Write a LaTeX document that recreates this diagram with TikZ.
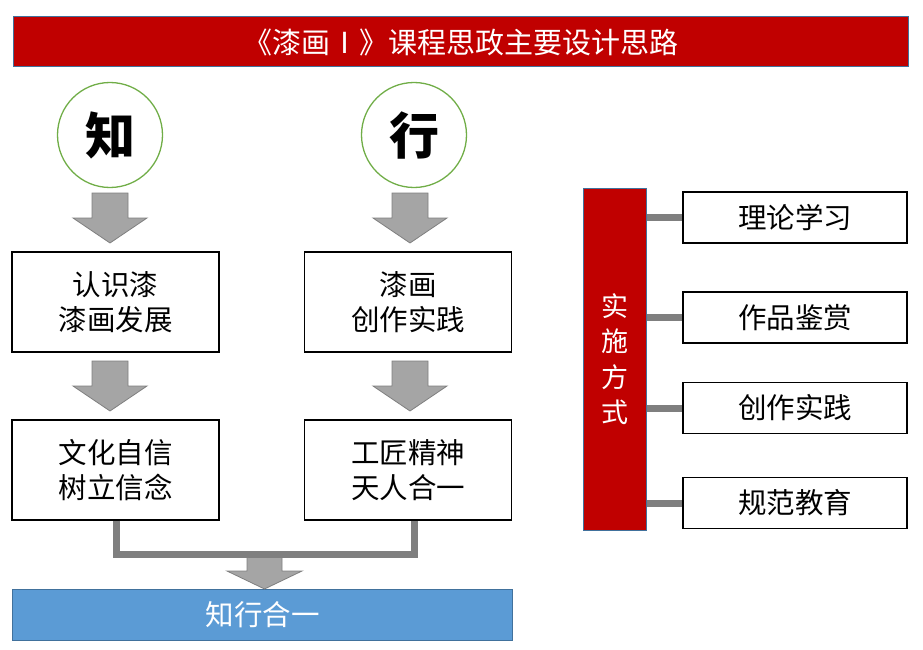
\documentclass[tikz,border=0pt]{standalone}
\usepackage{fontspec}
\setmainfont{Noto Sans CJK SC}
\definecolor{darkred}{HTML}{C00000}
\definecolor{edgeblue}{HTML}{41719C}
\definecolor{barblue}{HTML}{5B9BD5}
\definecolor{arrowgray}{HTML}{A5A5A5}
\definecolor{linegray}{HTML}{7F7F7F}
\definecolor{circgreen}{HTML}{70AD47}
\begin{document}
\begin{tikzpicture}[x=1pt,y=-1pt,
  textbox/.style={draw=black,line width=1.3pt,fill=white,minimum width=207pt,minimum height=100pt,align=center,font=\fontsize{28.5}{35}\selectfont,inner sep=0pt},
  sidebox/.style={draw=black,line width=1.3pt,fill=white,minimum width=224pt,minimum height=51pt,font=\fontsize{28.5}{30}\selectfont,inner sep=0pt},
  bigcirc/.style={circle,draw=circgreen,line width=1.3pt,minimum size=105pt,inner sep=0pt,font=\fontsize{50}{50}\selectfont\bfseries},
  fatarrow/.style={fill=arrowgray,draw=linegray,line width=0.8pt},
  conn/.style={draw=linegray,line width=7pt}]
\useasboundingbox (0,0) rectangle (923,650);
% title
\node[draw=edgeblue,line width=1pt,fill=darkred,minimum width=895pt,minimum height=50pt,text=white,font=\fontsize{29}{30}\selectfont,inner sep=0pt] (title) at (460.5,42) {《漆画Ⅰ》课程思政主要设计思路};
% circles
\node[bigcirc] (zhi) at (110,135) {知};
\node[bigcirc] (xing) at (414,135) {行};
% boxes
\node[textbox] (b1) at (115.5,302) {认识漆\\漆画发展};
\node[textbox] (b2) at (408,302) {漆画\\创作实践};
\node[textbox] (b3) at (115.5,470) {文化自信\\树立信念};
\node[textbox] (b4) at (408,470) {工匠精神\\天人合一};
% fat arrows
\foreach \cx/\ty/\by in {110/193/243, 410/193/243, 110/361/411, 410/361/411}{
  \filldraw[fatarrow] (\cx-18,\ty) -- (\cx+18,\ty) -- (\cx+18,\ty+25) -- (\cx+37,\ty+25) -- (\cx,\by) -- (\cx-37,\ty+25) -- (\cx-18,\ty+25) -- cycle;
}
% merge connector
\coordinate (m1) at (116.5,554);
\coordinate (m2) at (414,554);
\draw[conn] (b3.south -| m1) -- (m1) -- (m2) -- (b4.south -| m2);
% bottom bar
\node[draw=edgeblue,line width=1pt,fill=barblue,minimum width=500pt,minimum height=51pt,text=white,font=\fontsize{28.5}{30}\selectfont,inner sep=0pt] (unity) at (262.5,614.5) {知行合一};
\filldraw[fatarrow] (247,557.5) -- (282,557.5) -- (282,571) -- (302,571) -- (264.5,589) -- (227,571) -- (247,571) -- cycle;
% right side
\node[draw=edgeblue,line width=1pt,fill=darkred,minimum width=63pt,minimum height=342pt,inner sep=0pt] (impl) at (614.5,359) {};
\node[text=white,font=\fontsize{27}{35.5}\selectfont,align=center,inner sep=0pt] (impltext) at (impl.center) {实\\施\\方\\式};
\node[sidebox] (s1) at (795,217.5) {理论学习};
\node[sidebox] (s2) at (795,317.5) {作品鉴赏};
\node[sidebox] (s3) at (795,408) {创作实践};
\node[sidebox] (s4) at (795,503) {规范教育};
\foreach \s in {s1,s2,s3,s4}{
  \draw[conn] (impl.east |- \s.west) -- (\s.west);
}
\end{tikzpicture}
\end{document}
